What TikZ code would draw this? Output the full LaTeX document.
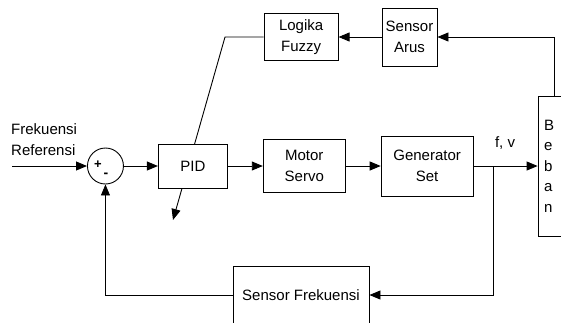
\documentclass[tikz,border=0pt]{standalone}
\usepackage{fontspec}
\setmainfont{Liberation Sans}
\usetikzlibrary{positioning,arrows.meta,backgrounds}
\tikzstyle{arrow} = [line width=0.9pt,-{Triangle[length=11pt,width=9pt]}]
\tikzstyle{block} = [draw,line width=0.9pt,fill=white,align=center,inner sep=0pt]

\begin{document}
\begin{tikzpicture}[x=1pt,y=-1pt,font=\fontsize{15}{21}\selectfont]
	\useasboundingbox (0,0) rectangle (561,322);
	\clip (0,0) rectangle (561,322);
	\coordinate (start) at (12,166);
	
	%Nodes
	\node [draw,line width=0.9pt,circle,minimum size=36pt,inner sep=0pt,right=75pt of start] (sum) {};
	\node [block,minimum width=69pt,minimum height=44pt,right=34pt of sum] (pid) {PID};
	\node [block,minimum width=82pt,minimum height=53pt,right=35pt of pid] (motor) {Motor\\Servo};
	\node [block,minimum width=92pt,minimum height=60pt,right=35pt of motor] (gen) {Generator\\Set};
	\node [block,minimum width=50pt,minimum height=140pt,text width=38pt,inner xsep=6pt,align=left,
		font=\fontsize{15}{20.5}\selectfont,right=64pt of gen] (beban) {B\\e\\b\\a\\n};
	\node [block,minimum width=55pt,minimum height=58pt] at (409.5,37) (arus) {Sensor\\Arus};
	\node [block,minimum width=74pt,minimum height=47pt,left=43pt of arus] (logika) {Logika\\Fuzzy};
	\node [block,minimum width=136pt,minimum height=58pt] at (301,295) (sf) {Sensor Frekuensi};
	
	%Labels
	\node [align=left,anchor=west,inner sep=0pt] at (11,140) (ref) {Frekuensi\\Referensi};
	\node at (505,143) (fv) {f, v};
	\node [font=\fontsize{13}{13}\selectfont\bfseries] at (98,165) (plus) {+};
	\node [font=\fontsize{14}{14}\selectfont\bfseries] at (106,175) (minus) {-};
	
	%Lines
	\coordinate (tap) at (493,166);
	\coordinate (knee) at (225,37);
	\coordinate (tip) at (173,220);
	\draw[arrow] (start) -- (sum.west);
	\draw[arrow] (sum.east) -- (pid.west);
	\draw[arrow] (pid.east) -- (motor.west);
	\draw[arrow] (motor.east) -- (gen.west);
	\draw[arrow] (gen.east) -- (beban.west);
	\draw[arrow] (tap) |- (sf.east);
	\draw[arrow] (sf.west) -| (sum.south);
	\draw[arrow] ([xshift=-9pt]beban.north) |- (arus.east);
	\draw[arrow] (arus.west) -- (logika.east);
	\begin{scope}[on background layer]
		\draw[arrow] (logika.west) -- (knee) -- (tip);
	\end{scope}
	
\end{tikzpicture}
\end{document}
